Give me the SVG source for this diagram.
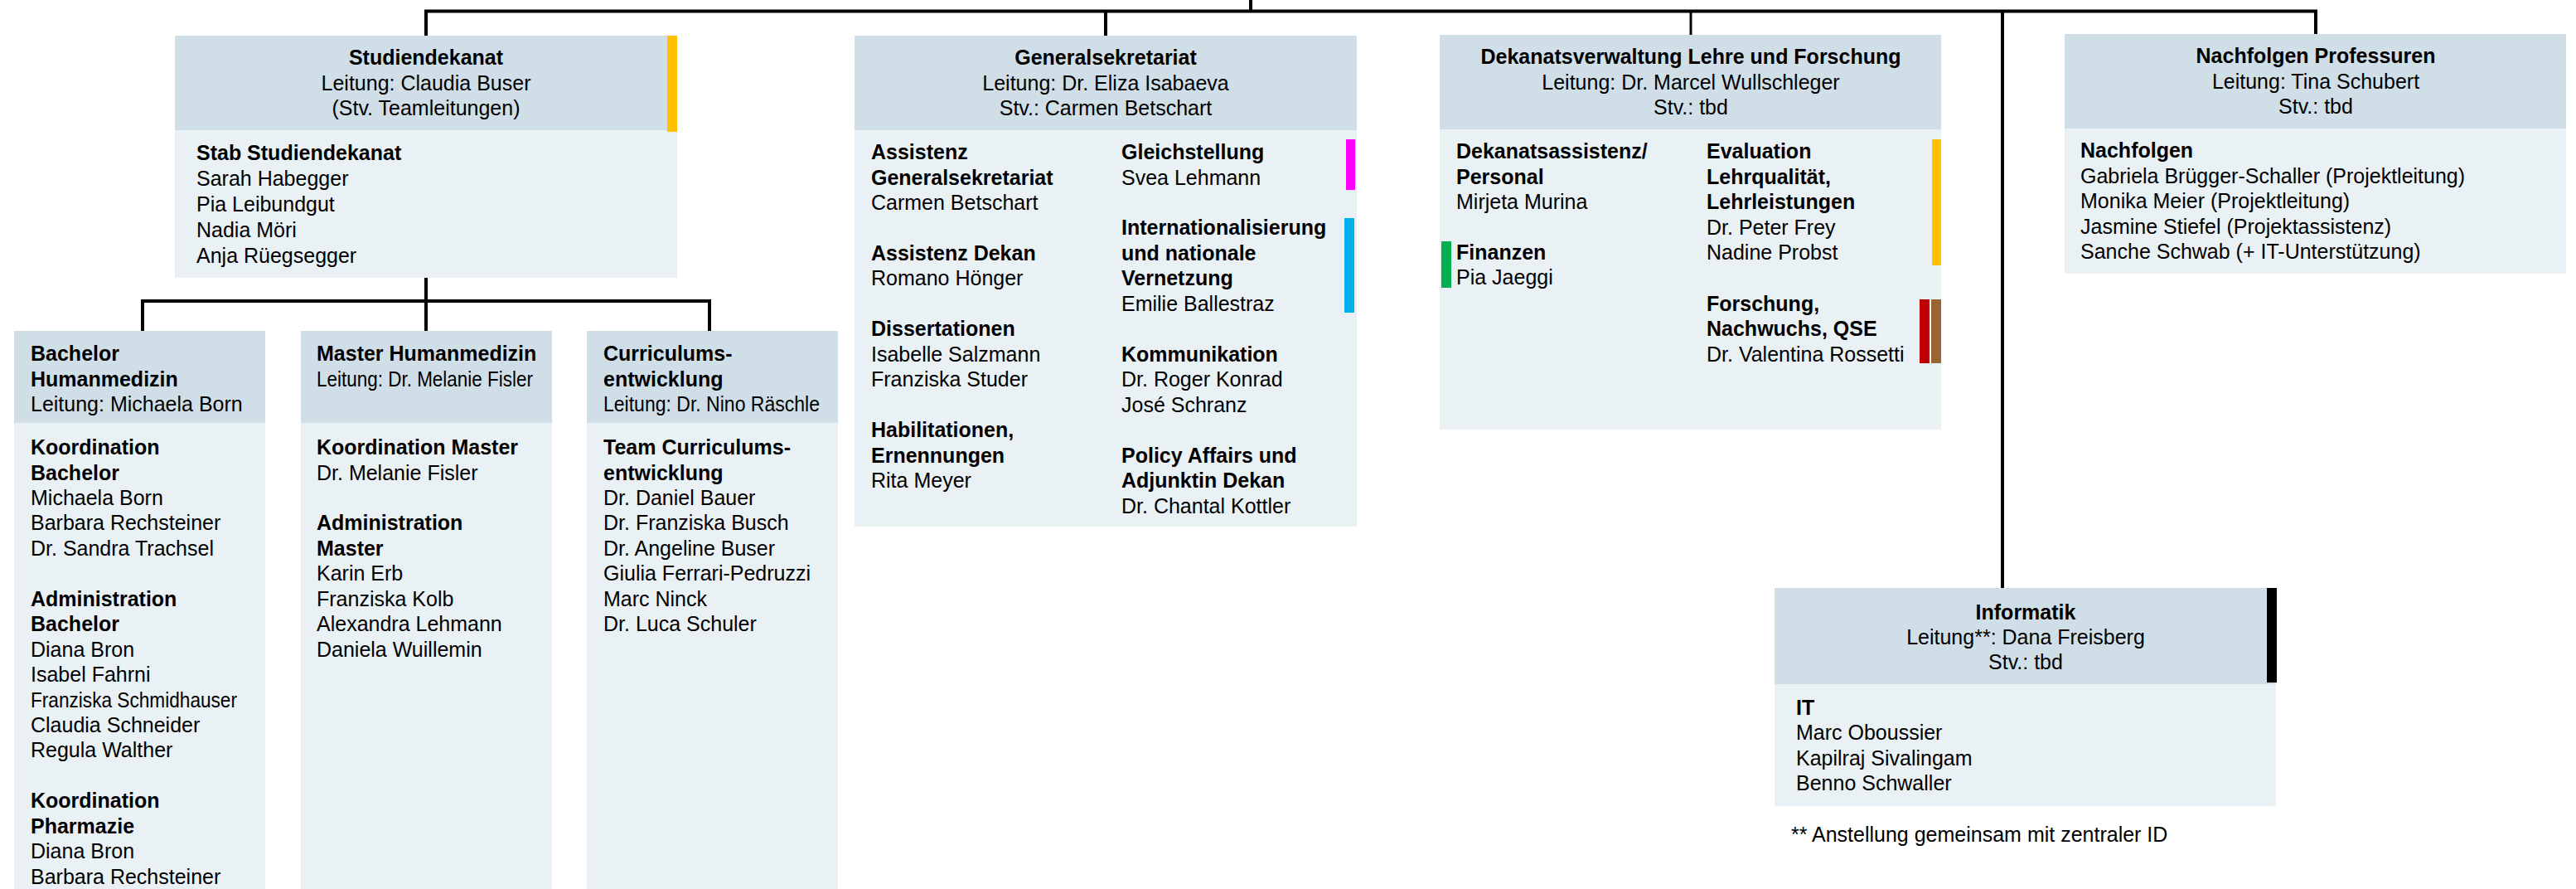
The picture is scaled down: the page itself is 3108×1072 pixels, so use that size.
<svg xmlns="http://www.w3.org/2000/svg" width="3108" height="1072" viewBox="0 0 3108 1072">
<style>
.hd{fill:#D0DFE7}
.bd{fill:#EAF1F5}
text{font-family:"Liberation Sans",Arial,sans-serif;font-size:25px;fill:#000}
.b{font-weight:bold}
.c{text-anchor:middle}
.ln{stroke:#000;stroke-width:4;fill:none}
</style>
<rect width="3108" height="1072" fill="#fff"/>
<g id="connectors">
<path class="ln" d="M1509 0 V13.5"/>
<path class="ln" d="M514 43 V13.5 H2794 V41"/>
<path class="ln" d="M1334 13.5 V43"/>
<path class="ln" d="M2040 13.5 V42" style="stroke-width:3"/>
<path class="ln" d="M2416 13.5 V709"/>
<path class="ln" d="M514 335 V399"/>
<path class="ln" d="M172 399 V363 H856 V399"/>
</g>
<g id="studiendekanat">
<rect class="bd" x="211" y="43" width="606" height="292"/>
<rect class="hd" x="211" y="43" width="606" height="114"/>
<rect x="805" y="43" width="12" height="116" fill="#FFC000"/>
<text class="c b" x="514" y="78">Studiendekanat</text>
<text class="c" x="514" y="108.5">Leitung: Claudia Buser</text>
<text class="c" x="514" y="139">(Stv. Teamleitungen)</text>
<text class="b" x="237" y="193">Stab Studiendekanat</text>
<text x="237" y="224">Sarah Habegger</text>
<text x="237" y="255">Pia Leibundgut</text>
<text x="237" y="286">Nadia Möri</text>
<text x="237" y="317">Anja Rüegsegger</text>
</g>
<g id="generalsekretariat">
<rect class="bd" x="1031" y="43" width="606" height="592"/>
<rect class="hd" x="1031" y="43" width="606" height="114"/>
<rect x="1624" y="168" width="11" height="61" fill="#FF00FF"/>
<rect x="1622" y="263" width="12" height="114" fill="#00B0F0"/>
<text class="c b" x="1334" y="78">Generalsekretariat</text>
<text class="c" x="1334" y="108.5">Leitung: Dr. Eliza Isabaeva</text>
<text class="c" x="1334" y="139">Stv.: Carmen Betschart</text>
<text class="b" x="1051" y="192">Assistenz</text>
<text class="b" x="1051" y="222.5">Generalsekretariat</text>
<text x="1051" y="253">Carmen Betschart</text>
<text class="b" x="1051" y="314">Assistenz Dekan</text>
<text x="1051" y="344">Romano Hönger</text>
<text class="b" x="1051" y="405">Dissertationen</text>
<text x="1051" y="436">Isabelle Salzmann</text>
<text x="1051" y="466">Franziska Studer</text>
<text class="b" x="1051" y="527">Habilitationen,</text>
<text class="b" x="1051" y="558">Ernennungen</text>
<text x="1051" y="588">Rita Meyer</text>
<text class="b" x="1353" y="192">Gleichstellung</text>
<text x="1353" y="222.5">Svea Lehmann</text>
<text class="b" x="1353" y="283">Internationalisierung</text>
<text class="b" x="1353" y="314">und nationale</text>
<text class="b" x="1353" y="344">Vernetzung</text>
<text x="1353" y="375">Emilie Ballestraz</text>
<text class="b" x="1353" y="436">Kommunikation</text>
<text x="1353" y="466">Dr. Roger Konrad</text>
<text x="1353" y="497">José Schranz</text>
<text class="b" x="1353" y="558">Policy Affairs und</text>
<text class="b" x="1353" y="588">Adjunktin Dekan</text>
<text x="1353" y="619">Dr. Chantal Kottler</text>
</g>
<g id="dekanatsverwaltung">
<rect class="bd" x="1737" y="42" width="605" height="476"/>
<rect class="hd" x="1737" y="42" width="605" height="114"/>
<rect x="1739" y="291" width="12" height="56" fill="#00B050"/>
<rect x="2331" y="168" width="11" height="152" fill="#FFC000"/>
<rect x="2316" y="361" width="12" height="77" fill="#C00000"/>
<rect x="2330" y="361" width="12" height="77" fill="#996633"/>
<text class="c b" x="2040" y="77">Dekanatsverwaltung Lehre und Forschung</text>
<text class="c" x="2040" y="108">Leitung: Dr. Marcel Wullschleger</text>
<text class="c" x="2040" y="138">Stv.: tbd</text>
<text class="b" x="1757" y="191">Dekanatsassistenz/</text>
<text class="b" x="1757" y="222">Personal</text>
<text x="1757" y="252">Mirjeta Murina</text>
<text class="b" x="1757" y="313">Finanzen</text>
<text x="1757" y="343">Pia Jaeggi</text>
<text class="b" x="2059" y="191">Evaluation</text>
<text class="b" x="2059" y="222">Lehrqualität,</text>
<text class="b" x="2059" y="252">Lehrleistungen</text>
<text x="2059" y="283">Dr. Peter Frey</text>
<text x="2059" y="313">Nadine Probst</text>
<text class="b" x="2059" y="375">Forschung,</text>
<text class="b" x="2059" y="405">Nachwuchs, QSE</text>
<text x="2059" y="436">Dr. Valentina Rossetti</text>
</g>
<g id="nachfolgen">
<rect class="bd" x="2491" y="41" width="605" height="289"/>
<rect class="hd" x="2491" y="41" width="605" height="114"/>
<text class="c b" x="2794" y="76">Nachfolgen Professuren</text>
<text class="c" x="2794" y="106.5">Leitung: Tina Schubert</text>
<text class="c" x="2794" y="137">Stv.: tbd</text>
<text class="b" x="2510" y="190">Nachfolgen</text>
<text x="2510" y="220.5">Gabriela Brügger-Schaller (Projektleitung)</text>
<text x="2510" y="251">Monika Meier (Projektleitung)</text>
<text x="2510" y="281.5">Jasmine Stiefel (Projektassistenz)</text>
<text x="2510" y="312">Sanche Schwab (+ IT-Unterstützung)</text>
</g>
<g id="informatik">
<rect class="bd" x="2141" y="709" width="605" height="263"/>
<rect class="hd" x="2141" y="709" width="605" height="116"/>
<rect x="2735" y="709" width="12" height="114" fill="#000"/>
<text class="c b" x="2444" y="747">Informatik</text>
<text class="c" x="2444" y="777">Leitung**: Dana Freisberg</text>
<text class="c" x="2444" y="807">Stv.: tbd</text>
<text class="b" x="2167" y="862">IT</text>
<text x="2167" y="892">Marc Oboussier</text>
<text x="2167" y="922.5">Kapilraj Sivalingam</text>
<text x="2167" y="953">Benno Schwaller</text>
</g>
<g id="footnote">
<text x="2161" y="1015">** Anstellung gemeinsam mit zentraler ID</text>
</g>
<g id="bachelor">
<rect class="bd" x="17" y="399" width="303" height="673"/>
<rect class="hd" x="17" y="399" width="303" height="111"/>
<text class="b" x="37" y="435">Bachelor</text>
<text class="b" x="37" y="465.5">Humanmedizin</text>
<text x="37" y="496">Leitung: Michaela Born</text>
<text class="b" x="37" y="548">Koordination</text>
<text class="b" x="37" y="578.5">Bachelor</text>
<text x="37" y="609">Michaela Born</text>
<text x="37" y="639.4">Barbara Rechsteiner</text>
<text x="37" y="669.8">Dr. Sandra Trachsel</text>
<text class="b" x="37" y="730.7">Administration</text>
<text class="b" x="37" y="761.2">Bachelor</text>
<text x="37" y="791.6">Diana Bron</text>
<text x="37" y="822.1">Isabel Fahrni</text>
<text x="37" y="852.5" textLength="249" lengthAdjust="spacingAndGlyphs">Franziska Schmidhauser</text>
<text x="37" y="883">Claudia Schneider</text>
<text x="37" y="913.4">Regula Walther</text>
<text class="b" x="37" y="974.3">Koordination</text>
<text class="b" x="37" y="1004.8">Pharmazie</text>
<text x="37" y="1035.2">Diana Bron</text>
<text x="37" y="1065.7">Barbara Rechsteiner</text>
</g>
<g id="master">
<rect class="bd" x="363" y="399" width="303" height="673"/>
<rect class="hd" x="363" y="399" width="303" height="111"/>
<text class="b" x="382" y="435">Master Humanmedizin</text>
<text x="382" y="465.5" textLength="261" lengthAdjust="spacingAndGlyphs">Leitung: Dr. Melanie Fisler</text>
<text class="b" x="382" y="548">Koordination Master</text>
<text x="382" y="578.5">Dr. Melanie Fisler</text>
<text class="b" x="382" y="639.4">Administration</text>
<text class="b" x="382" y="669.8">Master</text>
<text x="382" y="700.3">Karin Erb</text>
<text x="382" y="730.7">Franziska Kolb</text>
<text x="382" y="761.2">Alexandra Lehmann</text>
<text x="382" y="791.6">Daniela Wuillemin</text>
</g>
<g id="curriculum">
<rect class="bd" x="708" y="399" width="303" height="673"/>
<rect class="hd" x="708" y="399" width="303" height="111"/>
<text class="b" x="728" y="435">Curriculums-</text>
<text class="b" x="728" y="465.5">entwicklung</text>
<text x="728" y="496" textLength="261" lengthAdjust="spacingAndGlyphs">Leitung: Dr. Nino Räschle</text>
<text class="b" x="728" y="548">Team Curriculums-</text>
<text class="b" x="728" y="578.5">entwicklung</text>
<text x="728" y="608.9">Dr. Daniel Bauer</text>
<text x="728" y="639.4">Dr. Franziska Busch</text>
<text x="728" y="669.8">Dr. Angeline Buser</text>
<text x="728" y="700.3">Giulia Ferrari-Pedruzzi</text>
<text x="728" y="730.7">Marc Ninck</text>
<text x="728" y="761.2">Dr. Luca Schuler</text>
</g>
</svg>
